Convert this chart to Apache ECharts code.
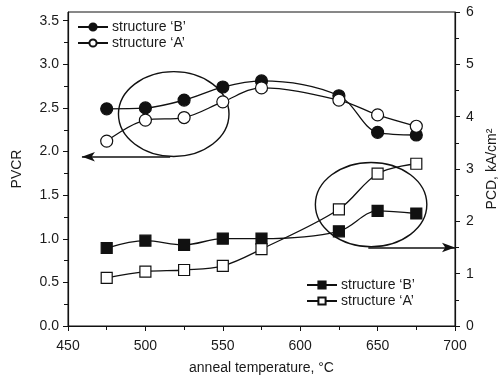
<!DOCTYPE html>
<html>
<head>
<meta charset="utf-8">
<script src="https://cdn.jsdelivr.net/npm/echarts@6/dist/echarts.min.js"></script>
<style>
  html, body { margin: 0; padding: 0; background: #fff; }
  #chart { width: 500px; height: 378px; }
</style>
</head>
<body>
<div id="chart"></div>
<script>
// anneal temperature, degC
const temps = [475, 500, 525, 550, 575, 625, 650, 675];

// PVCR (left axis)
const pvcrB = [2.49, 2.50, 2.59, 2.74, 2.81, 2.64, 2.22, 2.19];
const pvcrA = [2.12, 2.36, 2.39, 2.57, 2.73, 2.59, 2.42, 2.29];

// PCD, kA/cm2 (right axis)
const pcdB = [1.49, 1.63, 1.55, 1.67, 1.67, 1.81, 2.20, 2.15];
const pcdA = [0.92, 1.04, 1.07, 1.15, 1.47, 2.23, 2.91, 3.10];

const leftTicks = [0, 0.5, 1.0, 1.5, 2.0, 2.5, 3.0, 3.5];
const rightTicks = [0, 1, 2, 3, 4, 5, 6];

// annotation ellipses + arrows, in data units
const ellipseLeft = { x: 518.3, y: 2.43, rx: 35.7, ry: 0.486, axis: 0 };
const ellipseRight = { x: 645.8, y: 2.32, rx: 36.0, ry: 0.805, axis: 1 };
const arrowLeft = [[516, 1.94], [459, 1.94]];
const arrowRight = [[644, 1.50], [700, 1.50]];

const legendText = {
    circB: 'structure ‘B’', circA: 'structure ‘A’',
    sqB: 'structure ‘B’', sqA: 'structure ‘A’'
};

const txt = '#1a1a1a';
const font = 'Liberation Sans, Arial, sans-serif';

function pairs(ys) {
    return temps.map((t, i) => [t, ys[i]]);
}

function lineSeries(name, ys, yIdx, symbol, filled, size) {
    return {
        name: name,
        type: 'line',
        yAxisIndex: yIdx,
        data: pairs(ys),
        smooth: 0.35,
        symbol: symbol,
        symbolSize: size,
        showAllSymbol: true,
        lineStyle: { color: '#111', width: 1.3 },
        itemStyle: { color: filled ? '#111' : '#fff', borderColor: '#111', borderWidth: 1.2 },
        z: 3
    };
}

function arrowLine(pts) {
    return {
        silent: true,
        symbol: ['none', 'arrow'],
        symbolSize: [7, 13],
        label: { show: false },
        lineStyle: { color: '#111', width: 1.6, type: 'solid' },
        data: [[{ coord: pts[0] }, { coord: pts[1] }]]
    };
}

const seriesCircB = lineSeries('circB', pvcrB, 0, 'circle', true, 12);
const seriesCircA = lineSeries('circA', pvcrA, 0, 'circle', false, 12);
const seriesSqB = lineSeries('sqB', pcdB, 1, 'rect', true, 11);
const seriesSqA = lineSeries('sqA', pcdA, 1, 'rect', false, 11);
seriesCircB.markLine = arrowLine(arrowLeft);
seriesSqB.markLine = arrowLine(arrowRight);

const legendBase = {
    orient: 'vertical',
    padding: 0,
    itemGap: 2,
    itemWidth: 30,
    itemHeight: 9,
    selectedMode: false,
    textStyle: { color: txt, fontSize: 14, fontFamily: font, padding: [0, 0, 0, -1] },
    formatter: n => legendText[n]
};

const option = {
    animation: false,
    backgroundColor: '#fff',
    textStyle: { fontFamily: font },
    grid: {
        left: 68, right: 45, top: 12, bottom: 52,
        outerBoundsMode: 'none',
        containLabel: false,
        show: true, borderColor: '#111', borderWidth: 1, backgroundColor: 'transparent'
    },
    legend: [
        Object.assign({}, legendBase, { left: 77, top: 20, data: ['circB', 'circA'] }),
        Object.assign({}, legendBase, { left: 306, top: 278, data: ['sqB', 'sqA'] })
    ],
    xAxis: {
        type: 'value',
        min: 450, max: 700, interval: 50,
        name: 'anneal temperature, °C',
        nameLocation: 'middle',
        nameGap: 35,
        nameTextStyle: { color: txt, fontSize: 14 },
        axisLine: { lineStyle: { color: '#111', width: 1.2 } },
        axisTick: { inside: false, length: 5, lineStyle: { color: '#111' } },
        minorTick: { show: true, splitNumber: 2, length: 4, lineStyle: { color: '#111' } },
        splitLine: { show: false },
        axisLabel: { color: txt, fontSize: 14, margin: 13 }
    },
    yAxis: [
        {
            type: 'value',
            min: 0, max: 3.6, interval: 0.5,
            position: 'left',
            name: 'PVCR',
            nameLocation: 'middle',
            nameRotate: 90,
            nameGap: 44,
            nameTextStyle: { color: txt, fontSize: 14 },
            axisLine: { show: true, lineStyle: { color: '#111', width: 1.2 } },
            axisTick: { show: true, inside: false, length: 5, customValues: leftTicks, lineStyle: { color: '#111' } },
            minorTick: { show: true, splitNumber: 2, length: 4, lineStyle: { color: '#111' } },
            splitLine: { show: false },
            axisLabel: {
                color: txt, fontSize: 14, margin: 9,
                customValues: leftTicks,
                formatter: v => v.toFixed(1)
            }
        },
        {
            type: 'value',
            min: 0, max: 6, interval: 1,
            position: 'right',
            name: 'PCD, kA/cm²',
            nameLocation: 'middle',
            nameRotate: 90,
            nameGap: 24,
            nameTextStyle: { color: txt, fontSize: 14 },
            axisLine: { show: true, lineStyle: { color: '#111', width: 1.2 } },
            axisTick: { show: true, inside: false, length: 5, lineStyle: { color: '#111' } },
            minorTick: { show: true, splitNumber: 2, length: 4, lineStyle: { color: '#111' } },
            splitLine: { show: false },
            axisLabel: { color: txt, fontSize: 14, margin: 11, customValues: rightTicks }
        }
    ],
    series: [seriesCircB, seriesCircA, seriesSqB, seriesSqA]
};

const chart = echarts.init(document.getElementById('chart'), null, { renderer: 'canvas' });
chart.setOption(option);

function ellipseGraphic(e) {
    const finder = { xAxisIndex: 0, yAxisIndex: e.axis };
    const c = chart.convertToPixel(finder, [e.x, e.y]);
    const edge = chart.convertToPixel(finder, [e.x + e.rx, e.y + e.ry]);
    return {
        type: 'ellipse',
        silent: true,
        z: 2,
        shape: { cx: c[0], cy: c[1], rx: Math.abs(edge[0] - c[0]), ry: Math.abs(edge[1] - c[1]) },
        style: { fill: null, stroke: '#111', lineWidth: 1.4 }
    };
}

chart.setOption({ graphic: [ellipseGraphic(ellipseLeft), ellipseGraphic(ellipseRight)] });
</script>
</body>
</html>
